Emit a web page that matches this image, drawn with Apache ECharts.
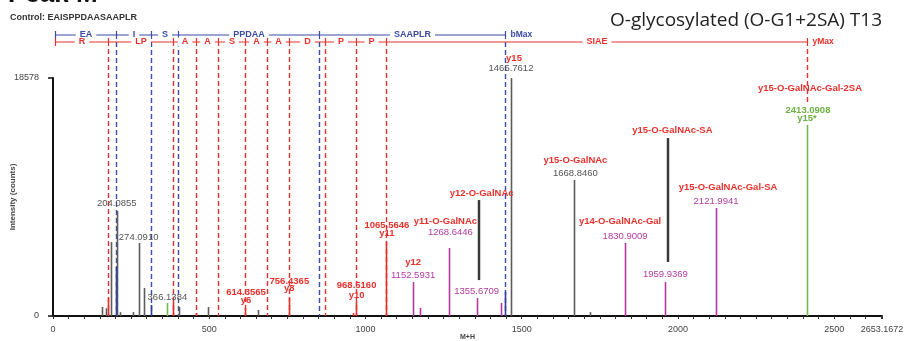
<!DOCTYPE html>
<html><head><meta charset="utf-8">
<script src="https://cdn.jsdelivr.net/npm/echarts@6/dist/echarts.min.js"></script>
<style>html,body{margin:0;padding:0;background:#fff}#c{width:906px;height:341px}</style>
</head><body><div id="c"></div>
<script>
// ---------- data ----------
const xMax = 2653.1672;
const yMax = 18578;
const xTickLabels = ['0', '500', '1000', '1500', '2000', '2500', '2653.1672'];
const yTickLabels = ['0', '18578'];

// [m/z, intensity (counts)]
const greyPeaks = [[156, 700], [170, 600], [186.08, 5780], [204.0855, 8200], [214, 300], [256, 300],
  [274.0910, 5700], [292.10, 2190], [403, 700], [496, 700], [656, 470],
  [1465.7612, 18578], [1668.8460, 10620], [1718, 300]];
const bluePeaks = [[201.09, 3830], [314.17, 860], [1447.75, 1900]];
const redPeaks = [[175.12, 1400], [385.27, 1090], [456.29, 230], [614.3565, 620], [756.4365, 1400],
  [960, 230], [968.5160, 1090], [1065.5646, 5780]];
const magentaPeaks = [[1152.5931, 2650], [1174, 620], [1268.6446, 5310], [1355.6709, 1400], [1434, 1015],
  [1830.9009, 5700], [1959.9369, 2650], [2121.9941, 8430]];
const greenPeaks = [[366.1384, 1015], [2413.0908, 14910]];

// fragment ladders (m/z of cleavage points) and residues between them
const bCuts = [6, 201.09, 314.17, 401.20, 852.41, 1447.75];
const bResidues = ['EA', 'I', 'S', 'PPDAA', 'SAAPLR'];
const yCuts = [6, 175.12, 385.27, 456.29, 527.33, 614.36, 685.40, 756.44, 871.46, 968.52, 1065.57, 2413.09];
const yResidues = ['R', 'LP', 'A', 'A', 'S', 'A', 'A', 'D', 'P', 'P', 'SIAE'];

// labelled peaks: [m/z, number text, ion name, extra name]
const peakLabels = [
  [204.0855, '204.0855', '', ''],
  [274.0910, '274.0910', '', ''],
  [366.1384, '366.1384', '', ''],
  [614.3565, '614.3565', 'y6', ''],
  [756.4365, '756.4365', 'y8', ''],
  [968.5160, '968.5160', 'y10', ''],
  [1065.5646, '1065.5646', 'y11', ''],
  [1152.5931, '1152.5931', 'y12', ''],
  [1268.6446, '1268.6446', 'y11-O-GalNAc', ''],
  [1355.6709, '1355.6709', 'y12-O-GalNAc', ''],
  [1465.7612, '1465.7612', 'y15', ''],
  [1668.8460, '1668.8460', 'y15-O-GalNAc', ''],
  [1830.9009, '1830.9009', 'y14-O-GalNAc-Gal', ''],
  [1959.9369, '1959.9369', 'y15-O-GalNAc-SA', ''],
  [2121.9941, '2121.9941', 'y15-O-GalNAc-Gal-SA', ''],
  [2413.0908, '2413.0908', 'y15-O-GalNAc-Gal-2SA', "y15*"]
];

const titleText = 'O-glycosylated (O-G1+2SA) T13';
const controlText = 'Control: EAISPPDAASAAPLR';

// ---------- styles / layout ----------
const C = {grey: '#555555', red: '#e8312c', mag: '#b33a9e', green: '#6db043', blue: '#3b4ba6', dark: '#333333'};
const FF = '"Liberation Sans", Arial, sans-serif';
// pixel offsets of each label line relative to peak top: [dx, dy, colorKey, bold]
const labelLayout = [
  {num: [0, -8, 'grey']},
  {num: [0, -6, 'grey']},
  {num: [0, -6, 'grey']},
  {num: [1, -16, 'red', 1], ion: [1, -8]},
  {num: [0, -17, 'red', 1], ion: [0, -10]},
  {num: [1, -17, 'red', 1], ion: [1, -7]},
  {num: [1, -17, 'red', 1], ion: [1, -9]},
  {ion: [0, -20], num: [0, -7, 'mag']},
  {ion: [-4, -27], num: [1, -16, 'mag']},
  {num: [0, -7, 'mag'], ion: [5, -105], leader: [2, -18, -98]},
  {ion: [3, -20], num: [0, -10, 'grey']},
  {ion: [1, -20], num: [1, -7, 'grey']},
  {ion: [-5, -22], num: [0, -7, 'mag']},
  {num: [0, -8, 'mag'], ion: [7, -152], leader: [3, -20, -144]},
  {ion: [12, -21], num: [0, -7, 'mag']},
  {ion: [3, -37], num: [1, -15, 'green', 1], extra: [0, -7]}
];

const allPeaks = greyPeaks.concat(bluePeaks, redPeaks, magentaPeaks, greenPeaks);
function intensityOf(mz) { const p = allPeaks.find(q => q[0] === mz); return p ? p[1] : 0; }

function peakSeries(data, color, name) {
  return {
    type: 'custom', name, data, z: 4, clip: false,
    renderItem: (params, api) => {
      const a = api.coord([api.value(0), 0]);
      const b = api.coord([api.value(0), api.value(1)]);
      const x = Math.round(a[0]) + 0.5;
      return {type: 'line', shape: {x1: x, y1: a[1], x2: x, y2: b[1]}, style: {stroke: color, lineWidth: 1.6}};
    }
  };
}

const ladderSeries = {
  type: 'custom', z: 2, clip: false, data: [[0, 0]],
  renderItem: (params, api) => {
    const top = api.coord([0, yMax])[1];
    const bot = api.coord([0, 0])[1];
    const ch = [];
    function ladder(cuts, names, y, color, endText, dashEnd) {
      const xs = cuts.map(m => Math.round(api.coord([m, 0])[0]) + 0.5);
      const last = xs.length - 1;
      for (let i = 1; i <= last; i++) {
        ch.push({type: 'line', shape: {x1: xs[i], y1: y + 7, x2: xs[i], y2: i === last && dashEnd ? dashEnd : bot},
          style: {stroke: color, lineWidth: 1.4, lineDash: [5, 3]}});
      }
      ch.push({type: 'line', shape: {x1: xs[0], y1: y, x2: xs[last], y2: y}, style: {stroke: color, lineWidth: 1.2}});
      xs.forEach(x => ch.push({type: 'line', shape: {x1: x, y1: y - 4, x2: x, y2: y + 4}, style: {stroke: color, lineWidth: 1.2}}));
      names.forEach((n, i) => ch.push({type: 'text', x: (xs[i] + xs[i + 1]) / 2, y: y,
        style: {text: n, fill: color, font: 'bold 9px ' + FF, align: 'center', verticalAlign: 'middle',
          backgroundColor: '#fff', padding: [0, 4]}}));
      ch.push({type: 'text', x: xs[last] + 5, y: y, style: {text: endText, fill: color, font: 'bold 8.5px ' + FF, align: 'left', verticalAlign: 'middle'}});
    }
    ladder(bCuts, bResidues, top - 43, C.blue, 'bMax', null);
    ladder(yCuts, yResidues, top - 36, C.red, 'yMax', top + 25);
    return {type: 'group', children: ch};
  }
};

const labelSeries = {
  type: 'custom', z: 6, clip: false,
  data: peakLabels.map((p, i) => [p[0], intensityOf(p[0]), i]),
  renderItem: (params, api) => {
    const i = api.value(2);
    const L = labelLayout[i];
    const P = peakLabels[i];
    const pt = api.coord([api.value(0), api.value(1)]);
    const ch = [];
    if (L.leader) {
      const lx = Math.round(pt[0]) + L.leader[0];
      ch.push({type: 'line', shape: {x1: lx, y1: pt[1] + L.leader[1], x2: lx, y2: pt[1] + L.leader[2]},
        style: {stroke: '#3a3a3a', lineWidth: 2.5}});
    }
    if (L.num) ch.push({type: 'text', x: pt[0] + L.num[0], y: pt[1] + L.num[1],
      style: {text: P[1], fill: C[L.num[2]], font: (L.num[3] ? 'bold ' : '') + '9.5px ' + FF, align: 'center', verticalAlign: 'middle'}});
    if (L.ion && P[2]) ch.push({type: 'text', x: pt[0] + L.ion[0], y: pt[1] + L.ion[1],
      style: {text: P[2], fill: C.red, font: 'bold 9.5px ' + FF, align: 'center', verticalAlign: 'middle'}});
    if (L.extra && P[3]) ch.push({type: 'text', x: pt[0] + L.extra[0], y: pt[1] + L.extra[1],
      style: {text: P[3], fill: C.green, font: 'bold 9.5px ' + FF, align: 'center', verticalAlign: 'middle'}});
    return {type: 'group', children: ch};
  }
};

const chart = echarts.init(document.getElementById('c'), null, {renderer: 'canvas'});
chart.setOption({
  animation: false,
  backgroundColor: '#fff',
  grid: {left: 53, right: 24, top: 78, bottom: 25, containLabel: false, outerBoundsMode: 'none'},
  xAxis: {
    type: 'value', min: 0, max: xMax, interval: 50,
    name: 'M+H', nameLocation: 'middle', nameGap: 18, nameMoveOverlap: false,
    nameTextStyle: {fontSize: 7, fontWeight: 'bold', color: '#444', fontFamily: FF},
    axisLine: {lineStyle: {color: '#111', width: 2}},
    axisTick: {length: 3, lineStyle: {color: '#333', width: 1}},
    splitLine: {show: false},
    axisLabel: {fontSize: 9, color: '#444', fontFamily: FF, margin: 9, showMaxLabel: true,
      formatter: v => { const s = (v === xMax) ? '2653.1672' : String(v); return xTickLabels.indexOf(s) >= 0 ? s : ''; }}
  },
  yAxis: {
    type: 'value', min: 0, max: yMax, interval: yMax,
    name: 'Intensity (counts)', nameLocation: 'middle', nameRotate: 90, nameGap: 36, nameMoveOverlap: false,
    nameTextStyle: {fontSize: 8, fontWeight: 'bold', color: '#444', fontFamily: FF},
    axisLine: {show: true, lineStyle: {color: '#111', width: 2}},
    axisTick: {show: true, length: 5, lineStyle: {color: '#111', width: 1.5}},
    splitLine: {show: false},
    axisLabel: {fontSize: 9, color: '#444', fontFamily: FF, margin: 14,
      formatter: v => { const s = String(Math.round(v)); return yTickLabels.indexOf(s) >= 0 ? s : ''; }}
  },
  graphic: [
    {type: 'text', left: 610, top: 11, style: {text: titleText, font: '19px "Open Sans", "Noto Sans", sans-serif', fill: '#222'}},
    {type: 'text', left: 10, top: 13, style: {text: controlText, font: 'bold 9px ' + FF, fill: '#333'}},
    {type: 'text', left: 8, top: -18, style: {text: 'Peak M', font: 'bold 26px ' + FF, fill: '#111'}}
  ],
  series: [
    ladderSeries,
    peakSeries(greyPeaks, '#5c5c5c', 'grey'),
    peakSeries(bluePeaks, '#2f3f9a', 'blue'),
    peakSeries(redPeaks, '#e3302b', 'red'),
    peakSeries(magentaPeaks, '#b8359f', 'magenta'),
    peakSeries(greenPeaks, '#72b84a', 'green'),
    labelSeries
  ]
});
</script></body></html>
